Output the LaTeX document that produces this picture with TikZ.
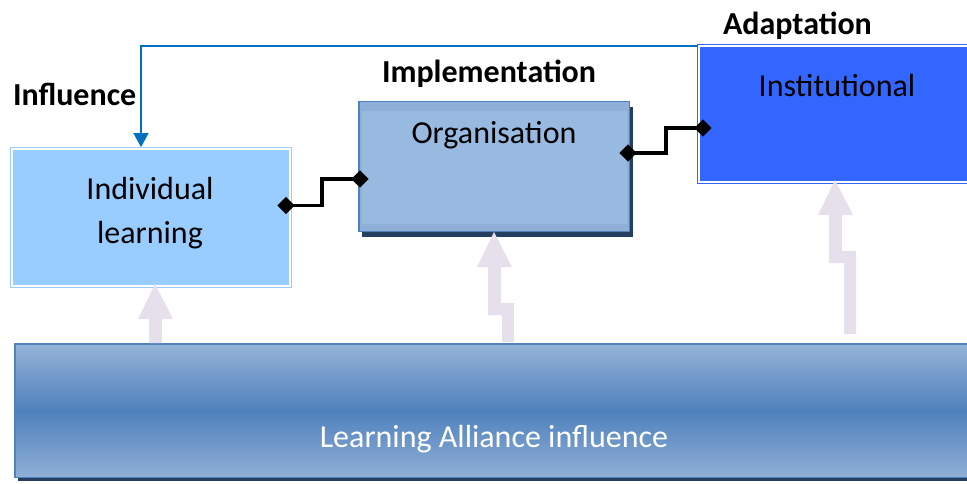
\documentclass[tikz,border=0pt]{standalone}
\usepackage{fontspec}
\setmainfont{Carlito}
\usetikzlibrary{arrows.meta,shapes.geometric,shadows,calc}

\definecolor{indblue}{HTML}{99CCFF}
\definecolor{instblue}{HTML}{3366FF}
\definecolor{orgedge}{HTML}{4F81BD}
\definecolor{orgfill}{HTML}{8FAFD8}
\definecolor{orginner}{HTML}{98BAE0}
\definecolor{navyshadow}{HTML}{243F60}
\definecolor{baselight}{HTML}{95B3D7}
\definecolor{basemid}{HTML}{4F81BD}
\definecolor{lavender}{HTML}{E6E0EC}
\definecolor{feedback}{HTML}{0070C0}

\tikzset{
  txt/.style={inner sep=0pt, outer sep=0pt, anchor=base},
  heading/.style={inner sep=0pt, outer sep=0pt, anchor=base west, font=\fontsize{24}{29}\selectfont\bfseries},
  framedbox/.style={rectangle, inner sep=0pt, outer sep=0pt, draw=#1, fill=#1,
    line width=0.9pt, double=white, double distance=1.5pt},
  bevelbox/.style={rectangle, inner sep=0pt, outer sep=0pt, draw=orgedge, line width=1.1pt,
    drop shadow={fill=navyshadow, opacity=1, shadow xshift=2.25pt, shadow yshift=-3.75pt}},
  knot/.style={diamond, fill=black, inner sep=0pt, outer sep=0pt, minimum width=13pt, minimum height=13pt},
  link/.style={black, line width=2.8pt, line join=miter},
  infl/.style={feedback, line width=1.5pt, -{Triangle[length=10.5pt,width=11pt]}},
  push/.style={fill=lavender, draw=none}
}

\begin{document}
\begin{tikzpicture}[x=0.75pt, y=-0.75pt, font=\fontsize{24}{29}\selectfont]
\useasboundingbox (0,0) rectangle (967,483);

% base layer
\node[rectangle, inner sep=0pt, outer sep=0pt, draw=orgedge, line width=1.1pt,
      drop shadow={fill=navyshadow, opacity=1, shadow xshift=2.25pt, shadow yshift=-3pt},
      top color=baselight, bottom color=baselight!92!basemid, middle color=basemid,
      minimum width=731.4pt, minimum height=100.1pt] (base) at (502.4,410.5) {};
\node[txt, text=white] (baset) at (494,447) {Learning Alliance influence};

% three levels
\node[framedbox=indblue, minimum width=208.2pt, minimum height=102.45pt] (ind) at (151,217.5) {};
\node[bevelbox, fill=orgfill, minimum width=202.9pt, minimum height=97.5pt] (org) at (494.25,166.5) {};
\fill[orginner] ($(org.north west)+(3,9)$) rectangle ($(org.south east)+(-3,-8)$);
\node[framedbox=instblue, minimum width=218.1pt, minimum height=101.7pt] (inst) at (844.6,114) {};

\node[txt] (indt1) at (150,199) {Individual};
\node[txt] (indt2) at (150,243) {learning};
\node[txt] (orgt) at (494,143) {Organisation};
\node[txt] (instt) at (837,96) {Institutional};

\node[heading] (inflab) at (13,105) {Influence};
\node[heading] (implab) at (382,82) {Implementation};
\node[heading] (adlab) at (723,34) {Adaptation};

% feedback from the institutional level
\coordinate (fbs) at (697,45.5);
\coordinate (fbc) at (141,45.5);
\draw[infl, shorten >=1.5pt] (fbs) -- (fbc) -- (fbc |- ind.north);

% stepped links between the levels
\coordinate (s1) at (322,0);
\coordinate (s2) at (666,0);
\node[knot] (k1) at (286,205.5) {};
\node[knot] (k2) at (360,179) {};
\node[knot] (k3) at (628,153) {};
\node[knot] (k4) at (703,128) {};
\draw[link] (k1.center) -- (k1.center -| s1) |- (k2.center);
\draw[link] (k3.center) -- (k3.center -| s2) |- (k4.center);

% upward pushes from the base layer
\path[push] (155,284) -- (173,319) -- (162,319) -- (162,343) -- (149,343) -- (149,319) -- (138,319) -- cycle;
\path[push] (494,232) -- (512,267) -- (501,267) -- (501,303) -- (514,303) -- (514,342)
  -- (502,342) -- (502,315) -- (488,315) -- (488,267) -- (477,267) -- cycle;
\path[push] (835,180) -- (853,215) -- (842,215) -- (842,251) -- (856,251) -- (856,334)
  -- (844,334) -- (844,263) -- (829,263) -- (829,215) -- (818,215) -- cycle;
\end{tikzpicture}
\end{document}
